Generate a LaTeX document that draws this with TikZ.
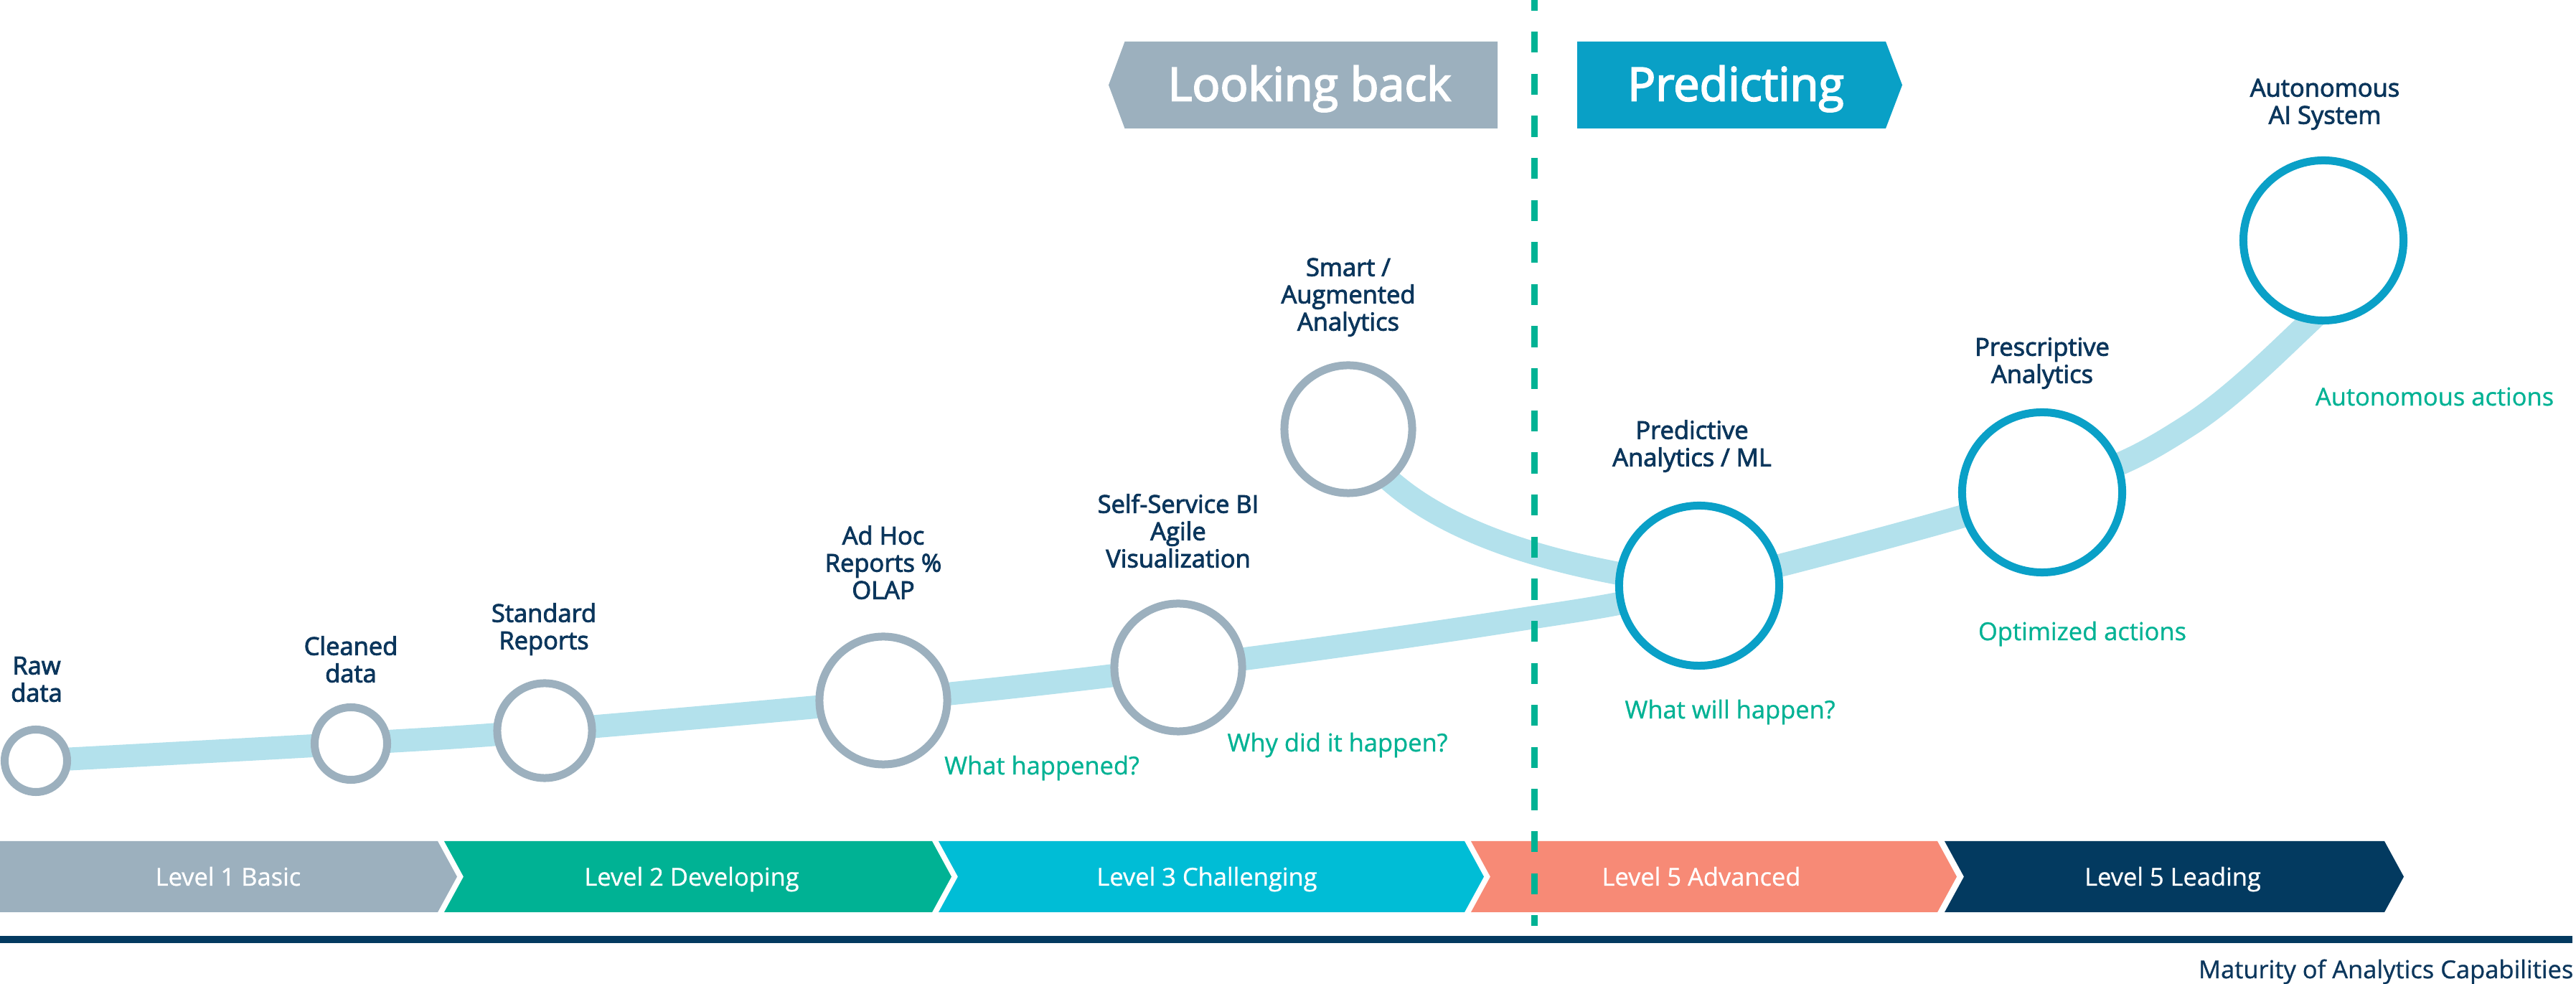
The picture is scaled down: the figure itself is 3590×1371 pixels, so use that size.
\documentclass[tikz,border=0pt]{standalone}
\usepackage{fontspec}
\setmainfont{Open Sans}
\newfontfamily\lblfont{Open Sans}[FakeBold=2.6]
\newfontfamily\hdrfont{Open Sans}[FakeBold=3]
\newfontfamily\ansfont{Open Sans}[FakeBold=0.8]
\usetikzlibrary{backgrounds}
\definecolor{grayblue}{HTML}{9CB0BE}
\definecolor{tealg}{HTML}{00B294}
\definecolor{cyanb}{HTML}{00BDD6}
\definecolor{salmon}{HTML}{F78A76}
\definecolor{navyb}{HTML}{033A60}
\definecolor{predblue}{HTML}{09A0C6}
\definecolor{ringblue}{HTML}{0AA0C7}
\definecolor{bandc}{HTML}{B3E1EC}
\definecolor{txtnavy}{HTML}{0B365C}
\begin{document}
\begin{tikzpicture}[x=0.01cm,y=-0.01cm,
  lbl/.style={font=\lblfont\fontsize{9.8}{10.8}\selectfont, text=txtnavy, align=center, inner sep=0pt},
  ans/.style={font=\ansfont\fontsize{9.8}{10.8}\selectfont, text=tealg, anchor=base, inner sep=0pt},
  lvl/.style={font=\ansfont\fontsize{9.8}{10.8}\selectfont, text=white, anchor=base, inner sep=0pt},
  hdr/.style={font=\hdrfont\fontsize{18.4}{20}\selectfont, text=white, anchor=base, inner sep=0pt},
  ringg/.style={circle, draw=grayblue, fill=white, line width=0.11cm, inner sep=0pt},
  ringb/.style={circle, draw=ringblue, fill=white, line width=0.11cm, inner sep=0pt, minimum size=2.23cm},
  band/.style={draw=bandc, line width=0.32cm},
  dashline/.style={draw=tealg, line width=0.09cm, dash pattern=on 0.293cm off 0.293cm, dash phase=0.146cm}
]
\useasboundingbox (0,0) rectangle (3590,1371);

% header boxes
\fill[grayblue] (1545,118.5) -- (1567.5,58) -- (2087,58) -- (2087,179) -- (1567.5,179) -- cycle;
\fill[predblue] (2198,58) -- (2628,58) -- (2651,118.5) -- (2628,179) -- (2198,179) -- cycle;
\node[hdr] (hback) at (1825,140.5) {Looking back};
\node[hdr] (hpred) at (2419,140.5) {Predicting};

% level bars
\fill[grayblue] (0,1172) -- (610,1172) -- (637,1221.5) -- (610,1271) -- (0,1271) -- cycle;
\fill[tealg] (619,1172) -- (1299,1172) -- (1326,1221.5) -- (1299,1271) -- (619,1271) -- (646,1221.5) -- cycle;
\fill[cyanb] (1308,1172) -- (2041,1172) -- (2068,1221.5) -- (2041,1271) -- (1308,1271) -- (1335,1221.5) -- cycle;
\fill[salmon] (2050,1172) -- (2700,1172) -- (2727,1221.5) -- (2700,1271) -- (2050,1271) -- (2077,1221.5) -- cycle;
\fill[navyb] (2710,1172) -- (3323,1172) -- (3350,1221.5) -- (3323,1271) -- (2710,1271) -- (2737,1221.5) -- cycle;
\node[lvl] (lv1) at (318,1234) {Level 1 Basic};
\node[lvl] (lv2) at (964,1234) {Level 2 Developing};
\node[lvl] (lv3) at (1682,1234) {Level 3 Challenging};
\node[lvl] (lv4) at (2371,1234) {Level 5 Advanced};
\node[lvl] (lv5) at (3028,1234) {Level 5 Leading};

% axis rule
\coordinate (axl) at (0,1309);
\coordinate (axr) at (3585,1309);
\draw[navyb, line width=0.1cm] (axl) -- (axr);
\node[font=\ansfont\fontsize{9.8}{10.8}\selectfont, text=txtnavy, anchor=base east, inner sep=0pt] (matur) at (3587,1363) {Maturity of Analytics Capabilities};

% circles
\node[ringg, minimum size=0.87cm] (raw) at (50,1060) {};
\node[ringg, minimum size=1.01cm] (clean) at (489,1036) {};
\node[ringg, minimum size=1.32cm] (std) at (759,1018) {};
\node[ringg, minimum size=1.78cm] (adhoc) at (1231,976) {};
\node[ringg, minimum size=1.78cm] (self) at (1642,930) {};
\node[ringg, minimum size=1.78cm] (smart) at (1879,598) {};
\node[ringb] (pred) at (2368,816) {};
\node[ringb] (presc) at (2846,686) {};
\node[ringb] (auto) at (3238,335) {};

% labels
\node[lbl] (lraw) at (51,951) {\strut Raw\\data\strut};
\node[lbl] (lclean) at (489,924) {\strut Cleaned\\data\strut};
\node[lbl] (lstd) at (758,878) {\strut Standard\\Reports\strut};
\node[lbl] (ladhoc) at (1231,789) {\strut Ad Hoc\\Reports \%\\OLAP\strut};
\node[lbl] (lself) at (1642,745) {\strut Self-Service BI\\Agile\\Visualization\strut};
\node[lbl] (lsmart) at (1879,415) {\strut Smart /\\Augmented\\Analytics\strut};
\node[lbl] (lpred) at (2358,623) {\strut Predictive\\Analytics / ML\strut};
\node[lbl] (lpresc) at (2846,507) {\strut Prescriptive\\Analytics\strut};
\node[lbl] (lauto) at (3240,146) {\strut Autonomous\\AI System\strut};

% answers
\node[ans] (a1) at (1452,1079) {What happened?};
\node[ans] (a2) at (1864,1047) {Why did it happen?};
\node[ans] (a3) at (2411,1001) {What will happen?};
\node[ans] (a4) at (2902,892) {Optimized actions};
\node[ans] (a5) at (3393,565) {Autonomous actions};

% path band (behind the circles)
\coordinate (m1) at (2100,866);
\coordinate (m2) at (3050,593);
\coordinate (m3) at (3217,450);
\coordinate (m4) at (3262,396);
\begin{scope}[on background layer]
\fill[white] (0,0) rectangle (3590,1371);
\draw[band] plot[smooth, tension=0.6] coordinates {(raw.center) (clean.center) (std.center) (adhoc.center) (self.center) (m1) (pred.center) (presc.center) (m2) (m3) (m4)};
\draw[band] (smart.center) .. controls (1950,730) and (2150,790) .. (pred.center);
\end{scope}

% divider
\coordinate (dtop) at (2138,0);
\coordinate (dbot) at (2138,1290);
\draw[dashline] (dtop) -- (dbot);
\end{tikzpicture}
\end{document}
